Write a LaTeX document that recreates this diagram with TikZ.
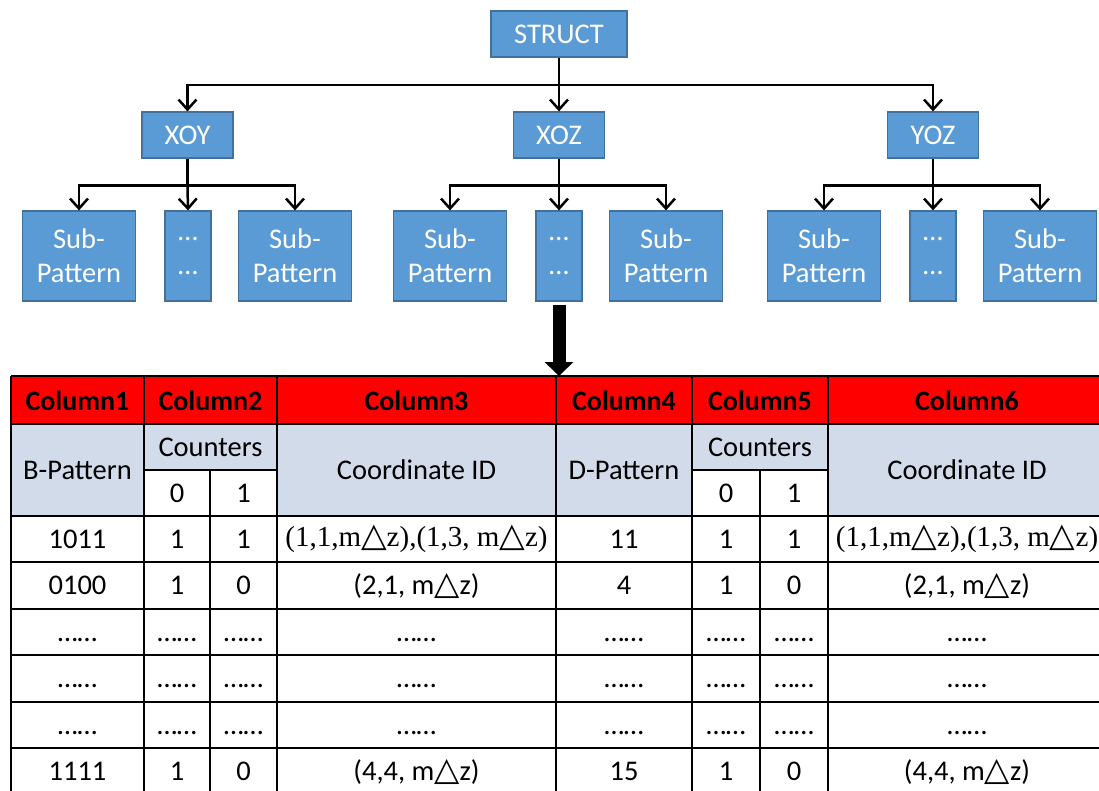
\documentclass[tikz,border=0pt]{standalone}
\usepackage{fontspec}
\setmainfont{Carlito}
\newfontfamily\timesfont{Liberation Serif}
\newfontfamily\symfont{DejaVu Sans}
\usetikzlibrary{arrows.meta}

\definecolor{boxblue}{HTML}{5B9BD5}
\definecolor{boxedge}{HTML}{41719C}
\definecolor{headred}{HTML}{FF0000}
\definecolor{cellblue}{HTML}{D2DBEA}

\newcommand{\tri}{{\symfont\scalebox{1.15}{△}}}
\newcommand{\cidone}{{\timesfont\fontsize{29}{34}\selectfont (1,1,m\tri z),(1,3, m\tri z)}}
\newcommand{\cidtwo}{(2,1, m\tri z)}
\newcommand{\cidlast}{(4,4, m\tri z)}
\newcommand{\celldots}{\vphantom{1}……}

\tikzset{
  box/.style={draw=boxedge, fill=boxblue, text=white, line width=1.2pt,
    inner sep=0pt, align=center, font=\fontsize{28.5}{34}\selectfont},
  subbox/.style={box, minimum width=113pt, minimum height=90pt},
  dotbox/.style={box, minimum width=46pt, minimum height=90pt},
  tree/.style={line width=2.5pt, -{Straight Barb[length=10pt,width=18pt]}},
  bigarrow/.style={line width=13pt, -{Triangle[length=14pt 0 0,width=28pt 0 0]}},
  cell/.style={font=\fontsize{28.5}{32}\selectfont, inner sep=0pt},
  headcell/.style={cell, font=\fontsize{28}{30}\selectfont\bfseries},
  grid/.style={line width=1.5pt}
}

\begin{document}
\begin{tikzpicture}[x=1pt, y=-1pt]
\useasboundingbox (0,0) rectangle (1099,790);
\clip (0,0) rectangle (1099,790);

% tree
\node[box, minimum width=136pt, minimum height=46pt] (struct) at (559,34) {STRUCT};
\node[box, minimum width=91pt, minimum height=46pt] (xoy) at (187.5,135) {XOY};
\node[box, minimum width=91pt, minimum height=46pt] (xoz) at (559,135) {XOZ};
\node[box, minimum width=91pt, minimum height=46pt] (yoz) at (933,135) {YOZ};

\node[subbox] (xoy1) at (79,256) {Sub-\\Pattern};
\node[dotbox] (xoy2) at (188,256) {…\\…};
\node[subbox] (xoy3) at (295,256) {Sub-\\Pattern};
\node[subbox] (xoz1) at (450,256) {Sub-\\Pattern};
\node[dotbox] (xoz2) at (559,256) {…\\…};
\node[subbox] (xoz3) at (666,256) {Sub-\\Pattern};
\node[subbox] (yoz1) at (824,256) {Sub-\\Pattern};
\node[dotbox] (yoz2) at (933,256) {…\\…};
\node[subbox] (yoz3) at (1040,256) {Sub-\\Pattern};

\coordinate (bus) at (559,85);
\draw[tree] (struct.south) -- (bus) -| (xoy.north);
\draw[tree] (struct.south) -- (xoz.north);
\draw[tree] (bus) -| (yoz.north);

\foreach \p in {xoy,xoz,yoz}{
  \coordinate (\p bus) at ([yshift=-27pt]\p.south);
  \draw[tree] (\p.south) -- (\p bus) -| (\p1.north);
  \draw[tree] (\p bus) -- (\p2.north);
  \draw[tree] (\p bus) -| (\p3.north);
}

% table
\coordinate (tabtop) at (559,376);
\fill[headred] (11,376) rectangle (1110,424);
\fill[cellblue] (11,424) rectangle (1110,516);
\fill[white] (144,470) rectangle (277,516);
\fill[white] (692,470) rectangle (828,516);

\foreach \y in {376,424,516,562,609,655,702,748}
  \draw[grid] (11,\y) -- (1110,\y);
\draw[grid] (144,470) -- (277,470);
\draw[grid] (692,470) -- (828,470);
\foreach \x in {11,144,277,556,692,828}
  \draw[grid] (\x,376) -- (\x,795);
\foreach \x in {210,760}
  \draw[grid] (\x,470) -- (\x,795);

\draw[bigarrow] ([yshift=-3pt]xoz2.south) -- (tabtop);

\foreach \x/\t in {77.5/Column1,210.5/Column2,416.5/Column3,624/Column4,760/Column5,967/Column6}
  \node[headcell] (h\t) at (\x,401) {\t};

\node[cell] (bpat) at (77.5,470) {B-Pattern};
\node[cell] (cnta) at (210.5,447) {Counters};
\node[cell] at (177,493) {0};
\node[cell] at (243.5,493) {1};
\node[cell] (cida) at (416.5,470) {Coordinate ID};
\node[cell] (dpat) at (624,470) {D-Pattern};
\node[cell] (cntb) at (760,447) {Counters};
\node[cell] at (726,493) {0};
\node[cell] at (794,493) {1};
\node[cell] (cidb) at (967,470) {Coordinate ID};

\foreach \y/\a/\b/\c/\d/\e/\f/\g/\h in {
  539/1011/1/1/\cidone/11/1/1/\cidone,
  585.5/0100/1/0/\cidtwo/4/1/0/\cidtwo,
  632/\celldots/\celldots/\celldots/\celldots/\celldots/\celldots/\celldots/\celldots,
  678.5/\celldots/\celldots/\celldots/\celldots/\celldots/\celldots/\celldots/\celldots,
  725/\celldots/\celldots/\celldots/\celldots/\celldots/\celldots/\celldots/\celldots,
  771.5/1111/1/0/\cidlast/15/1/0/\cidlast}{
  \node[cell] at (77.5,\y) {\a};
  \node[cell] at (177,\y) {\b};
  \node[cell] at (243.5,\y) {\c};
  \node[cell] at (416.5,\y) {\d};
  \node[cell] at (624,\y) {\e};
  \node[cell] at (726,\y) {\f};
  \node[cell] at (794,\y) {\g};
  \node[cell] at (967,\y) {\h};
}
\end{tikzpicture}
\end{document}
